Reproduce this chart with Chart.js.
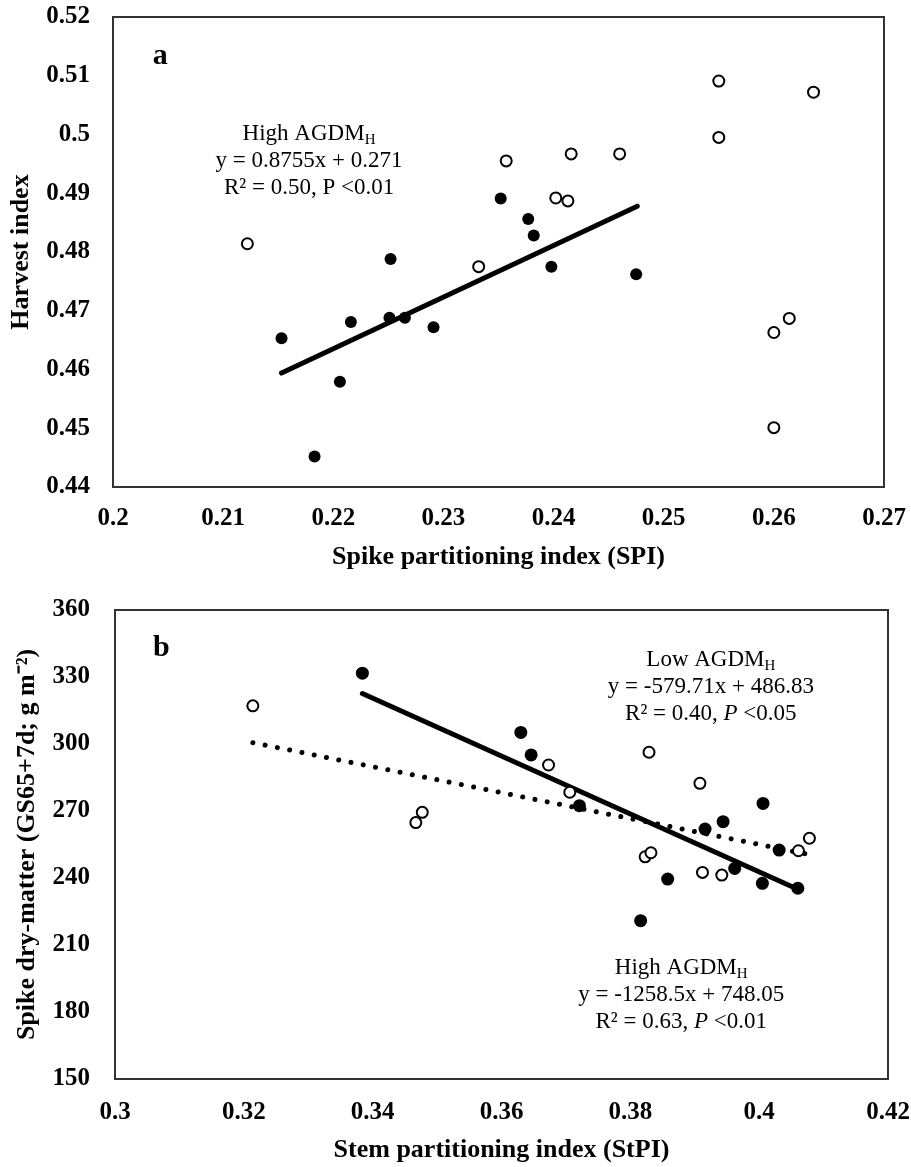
<!DOCTYPE html>
<html lang="en">
<head>
<meta charset="utf-8" />
<title>Harvest index / spike dry-matter vs partitioning indices</title>
<style>
body{margin:0;background:#fff;}
#wrap{position:relative;width:911px;height:1167px;}
canvas{position:absolute;left:0;}
#chartA{top:0;}
#chartB{top:580px;}
</style>
</head>
<body>
<div id="wrap">
  <canvas id="chartA" width="911" height="580"></canvas>
  <canvas id="chartB" width="911" height="587"></canvas>
</div>

<script src="https://cdn.jsdelivr.net/npm/chart.js@4.4.1"></script>
<script>
/* ───────── data ───────── */
/* panel a : harvest index vs SPI */
const spiHigh = [0.2153,0.2183,0.2206,0.2216,0.2251,0.2252,0.2265,0.2291,0.2352,0.2377,0.2382,0.2398,0.2475];
const hiHigh  = [0.4653,0.4452,0.4579,0.4681,0.4688,0.4788,0.4688,0.4672,0.4891,0.4856,0.4828,0.4775,0.4762];
const spiLow  = [0.2122,0.2332,0.2357,0.2402,0.2413,0.2416,0.2460,0.2550,0.2550,0.2636,0.2600,0.2614,0.2600];
const hiLow   = [0.4814,0.4775,0.4955,0.4892,0.4887,0.4967,0.4967,0.5091,0.4995,0.5072,0.4663,0.4687,0.4501];
const fitAX   = [0.2153,0.2476];
const fitAY   = [0.4594,0.4878];

/* panel b : spike dry-matter vs StPI */
const stpiHigh = [0.3384,0.3630,0.3646,0.3721,0.3816,0.3858,0.3916,0.3944,0.3962,0.4005,0.4006,0.4031,0.4060];
const sdmHigh  = [331.7,305.2,295.1,272.4,220.9,239.5,261.9,265.2,244.3,237.6,273.4,252.5,235.4];
const stpiLow  = [0.3214,0.3467,0.3477,0.3673,0.3706,0.3823,0.3829,0.3832,0.3908,0.3912,0.3942,0.4061,0.4078];
const sdmLow   = [317.1,264.8,269.4,290.6,278.4,249.5,296.3,251.3,282.4,242.5,241.3,252.2,257.8];
const fitHighX = [0.3384,0.4060];
const fitHighY = [322.6,235.0];
const fitLowX  = [0.3214,0.4076];
const fitLowY  = [300.6,250.6];

/* tick labels */
const xTicksA = [0.2,0.21,0.22,0.23,0.24,0.25,0.26,0.27];
const yTicksA = [0.44,0.45,0.46,0.47,0.48,0.49,0.5,0.51,0.52];
const xTicksB = [0.3,0.32,0.34,0.36,0.38,0.4,0.42];
const yTicksB = [150,180,210,240,270,300,330,360];

/* annotation text: [text, style]  n=normal i=italic s=subscript */
const noteA     = [[['High AGDM','n'],['H','s']], [['y = 0.8755x + 0.271','n']], [['R² = 0.50, P <0.01','n']]];
const noteBLow  = [[['Low AGDM','n'],['H','s']], [['y = -579.71x + 486.83','n']], [['R² = 0.40, ','n'],['P','i'],[' <0.05','n']]];
const noteBHigh = [[['High AGDM','n'],['H','s']], [['y = -1258.5x + 748.05','n']], [['R² = 0.63, ','n'],['P','i'],[' <0.01','n']]];

const SERIF = '"Liberation Serif","Times New Roman",serif';
const pairs = (xs,ys)=>xs.map((x,i)=>({x,y:ys[i]}));

/* ───────── plug-in: box frame, panel letter, equations ───────── */
const notes = {
    id:'notes',
    afterDatasetsDraw(chart, args, opts){
        const {ctx, chartArea:a, scales:{x,y}} = chart;
        ctx.save();
        ctx.strokeStyle='#333'; ctx.lineWidth=2;
        ctx.strokeRect(a.left, a.top, a.right-a.left, a.bottom-a.top);

        ctx.fillStyle='#000';
        ctx.textBaseline='middle';
        ctx.textAlign='left';
        ctx.font='bold 30px '+SERIF;
        ctx.fillText(opts.letter[0], x.getPixelForValue(opts.letter[1]), y.getPixelForValue(opts.letter[2]));

        (opts.blocks||[]).forEach(b=>{
            const cx = x.getPixelForValue(b.x);
            let cy = y.getPixelForValue(b.y);
            b.lines.forEach(segs=>{
                const fonts = segs.map(s=> s[1]==='i' ? 'italic 23px '+SERIF : s[1]==='s' ? '15px '+SERIF : '23px '+SERIF);
                const widths = segs.map((s,i)=>{ ctx.font=fonts[i]; return ctx.measureText(s[0]).width; });
                let px = cx - widths.reduce((p,q)=>p+q,0)/2;
                segs.forEach((s,i)=>{
                    ctx.font=fonts[i];
                    ctx.fillText(s[0], px, s[1]==='s' ? cy+6 : cy);
                    px += widths[i];
                });
                cy += 27;
            });
        });
        ctx.restore();
    }
};
Chart.register(notes);
Chart.defaults.animation=false;

function axis({min,max,ticks,title,pad,size,titlePad}){
    return {
        type:'linear', min, max,
        afterBuildTicks:s=>{ s.ticks = ticks.map(v=>({value:v})); },
        afterFit:s=>{
            if (s.isHorizontal()) s.height=size; else s.width=size;
            // let layout.padding alone decide the plot box
            s.paddingTop=s.paddingBottom=s.paddingLeft=s.paddingRight=0;
        },
        grid:{display:false,drawTicks:false},
        border:{display:false},
        ticks:{color:'#000',padding:pad,font:{family:SERIF,size:25,weight:'bold'},callback:v=>String(v)},
        title:{display:true,text:title,color:'#000',padding:titlePad,font:{family:SERIF,size:26,weight:'bold'}}
    };
}

function scatterChart(id,{datasets,x,y,padding,notesOpts}){
    new Chart(document.getElementById(id),{
        type:'scatter',
        data:{datasets},
        options:{
            responsive:false,
            events:[],
            layout:{padding,autoPadding:false},
            plugins:{legend:{display:false},tooltip:{enabled:false},notes:notesOpts},
            scales:{x:axis(x),y:axis(y)}
        }
    });
}

const filled = (data,r)=>({data,pointRadius:r,backgroundColor:'#000',borderColor:'#000',pointBorderWidth:0});
const open   = (data)=>({data,pointRadius:5.5,backgroundColor:'#fff',borderColor:'#000',pointBorderWidth:2});
const fit    = (data,dash)=>({data,showLine:true,pointRadius:0,borderColor:'#000',
                              borderWidth:5,borderCapStyle:'round',borderDash:dash||[]});

/* ───────── panel a ───────── */
scatterChart('chartA',{
    datasets:[
        filled(pairs(spiHigh,hiHigh),6),
        open(pairs(spiLow,hiLow)),
        fit(pairs(fitAX,fitAY))
    ],
    x:{min:0.2,max:0.27,ticks:xTicksA,title:'Spike partitioning index (SPI)',pad:17,size:93,titlePad:{top:0,bottom:7}},
    y:{min:0.44,max:0.52,ticks:yTicksA,title:'Harvest index',pad:23,size:113,titlePad:{top:6,bottom:0}},
    padding:{top:17,right:27,left:0,bottom:0},
    notesOpts:{letter:['a',0.2036,0.5134],blocks:[{x:0.2178,y:0.5001,lines:noteA}]}
});

/* ───────── panel b ───────── */
scatterChart('chartB',{
    datasets:[
        filled(pairs(stpiHigh,sdmHigh),6.5),
        open(pairs(stpiLow,sdmLow)),
        fit(pairs(fitHighX,fitHighY)),
        fit(pairs(fitLowX,fitLowY),[0.01,12.5])
    ],
    x:{min:0.3,max:0.42,ticks:xTicksB,title:'Stem partitioning index (StPI)',pad:19,size:88,titlePad:{top:0,bottom:1}},
    y:{min:150,max:360,ticks:yTicksB,title:'Spike dry-matter (GS65+7d; g m⁻²)',pad:25,size:115,titlePad:{top:12,bottom:0}},
    padding:{top:30,right:23,left:0,bottom:0},
    notesOpts:{letter:['b',0.3059,343.0],blocks:[
        {x:0.3925,y:337.6,lines:noteBLow},
        {x:0.3879,y:199.7,lines:noteBHigh}
    ]}
});
</script>
</body>
</html>
